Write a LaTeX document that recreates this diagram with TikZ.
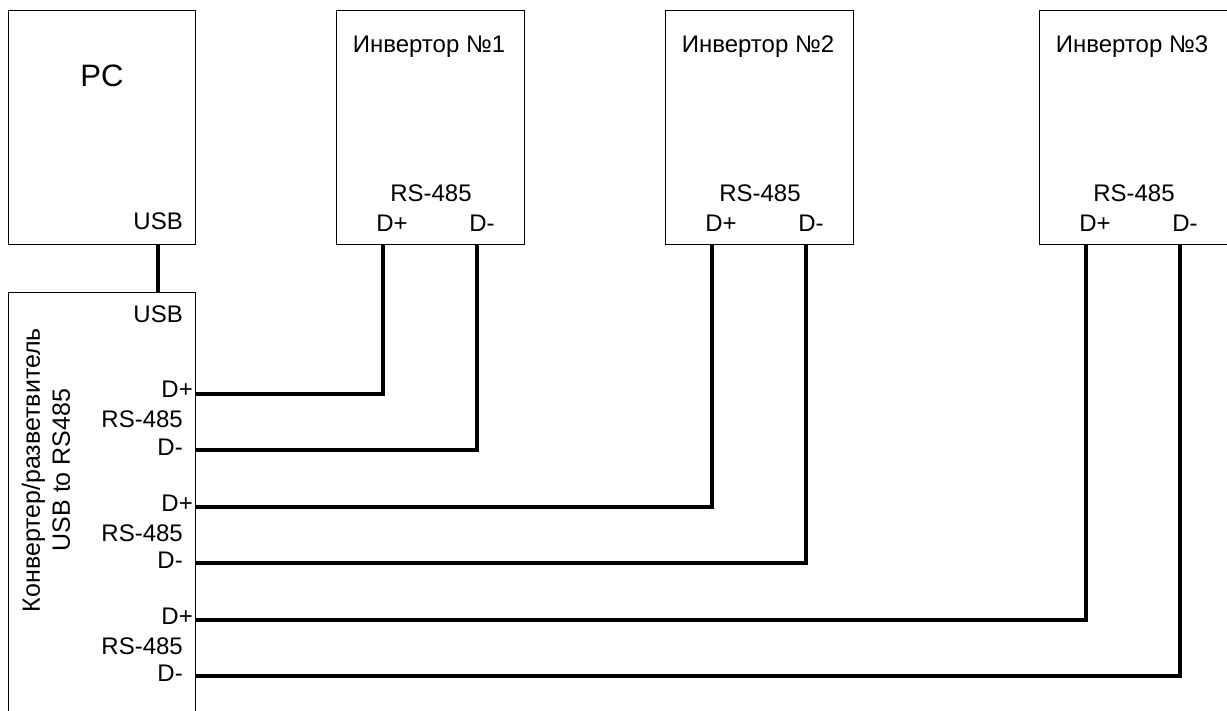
\documentclass[tikz,border=0pt]{standalone}
\usepackage{fontspec}
\setmainfont{Liberation Sans}
\begin{document}
\begin{tikzpicture}[x=1pt,y=-1pt,
    box/.style={draw, line width=1.2pt, minimum width=188pt, minimum height=234pt,
      inner sep=0pt, anchor=north west},
    wire/.style={line width=4pt},
    lbl/.style={font=\fontsize{24}{28}\selectfont, inner sep=0pt}]
  \clip (0,0) rectangle (1227,711);
  % PC
  \node[box, minimum width=187pt] (pc) at (8,10) {};
  \node[font=\fontsize{31}{36}\selectfont, inner sep=0pt, anchor=base] (pcname) at (102,87) {PC};
  \node[lbl, anchor=base east] (pcusb) at (183,230) {USB};
  \coordinate (pcport) at (158,244);
  % converter, its bottom edge is below the picture
  \node[box, minimum width=187pt, minimum height=480pt] (conv) at (8,292) {};
  \node[lbl, anchor=base east] (convusb) at (183,323) {USB};
  \node[rotate=90, align=center, font=\fontsize{25}{30}\selectfont, inner sep=0pt] (convname)
    at (46,470) {Конвертер/разветвитель\\USB to RS485};
  \coordinate (convport) at (158,292);
  \draw[wire] (pcport) -- (convport);
  % inverters
  \foreach \i/\x in {1/336,2/665,3/1039}{
    \node[box] (inv\i) at (\x,10) {};
    \node[font=\fontsize{24}{28}\selectfont, inner sep=0pt, anchor=base] (inv\i-name) at (\x+93,53) {Инвертор №\i};
    \node[lbl, anchor=base] (inv\i-bus) at (\x+95,202) {RS-485};
    \node[lbl, anchor=base] (inv\i-dp) at (\x+56,232) {D+};
    \node[lbl, anchor=base] (inv\i-dm) at (\x+146,232) {D-};
    \coordinate (inv\i-p) at (\x+47,244);
    \coordinate (inv\i-m) at (\x+141,244);
  }
  % ports of the converter
  \foreach \i/\y in {1/394,2/507,3/620}{
    \node[lbl, anchor=base east] (c\i-dp) at (193,\y+4) {D+};
    \node[lbl, anchor=base east] (c\i-bus) at (183,\y+34) {RS-485};
    \node[lbl, anchor=base east] (c\i-dm) at (183,\y+61) {D-};
    \coordinate (c\i-p) at (195,\y);
    \coordinate (c\i-m) at (195,\y+56);
  }
  \begin{scope}[wire]
    \draw (inv1-p) |- (c1-p);
    \draw (inv1-m) |- (c1-m);
    \draw (inv2-p) |- (c2-p);
    \draw (inv2-m) |- (c2-m);
    \draw (inv3-p) |- (c3-p);
    \draw (inv3-m) |- (c3-m);
  \end{scope}
\end{tikzpicture}
\end{document}
